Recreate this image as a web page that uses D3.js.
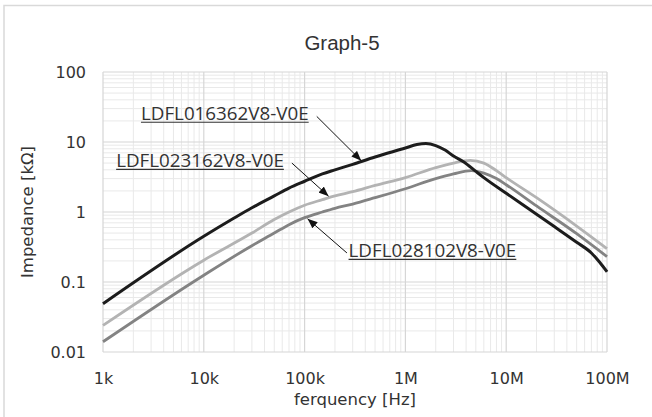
<!DOCTYPE html>
<html>
<head>
<meta charset="utf-8">
<script src="https://cdn.jsdelivr.net/npm/d3@7/dist/d3.min.js"></script>
<style>
  html, body { margin: 0; padding: 0; background: #fff; }
  svg { display: block; }
</style>
</head>
<body>
<svg id="chart" width="652" height="417"></svg>
<script>
// ---------------- DATA ----------------
const chartTitle = "Graph-5";
const xAxisTitle = "ferquency [Hz]";
const yAxisTitle = "Impedance [kΩ]";

const xTickValues = [1e3, 1e4, 1e5, 1e6, 1e7, 1e8];
const xTickLabels = ["1k", "10k", "100k", "1M", "10M", "100M"];
const yTickValues = [0.01, 0.1, 1, 10, 100];
const yTickLabels = ["0.01", "0.1", "1", "10", "100"];

const seriesNames = ["LDFL016362V8-V0E", "LDFL023162V8-V0E", "LDFL028102V8-V0E"];

// LDFL016362V8-V0E (black)
const s1Freq = [1e3, 1e4, 2e4, 3e4, 5e4, 7e4, 1e5, 1.5e5, 2e5, 3e5, 5e5, 1e6, 1.3e6, 1.6e6, 2e6, 2.5e6, 3e6, 3.8e6, 5e6, 6e6, 1e7, 2e7, 3e7, 5e7, 7e7, 8.5e7, 1e8];
const s1Imp  = [0.049, 0.45, 0.82, 1.15, 1.7, 2.2, 2.75, 3.5, 4.0, 4.8, 6.1, 8.2, 9.2, 9.5, 8.9, 7.6, 6.3, 5.2, 3.8, 3.1, 1.85, 0.93, 0.62, 0.37, 0.26, 0.19, 0.14];

// LDFL023162V8-V0E (light grey)
const s2Freq = [1e3, 1e4, 3e4, 5e4, 7e4, 1e5, 1.5e5, 2e5, 3e5, 5e5, 1e6, 2e6, 3e6, 4.4e6, 6e6, 8e6, 1e7, 2e7, 5e7, 1e8];
const s2Imp  = [0.024, 0.205, 0.5, 0.78, 1.0, 1.25, 1.5, 1.7, 1.95, 2.4, 3.1, 4.3, 5.0, 5.45, 5.0, 3.9, 3.1, 1.6, 0.63, 0.3];

// LDFL028102V8-V0E (dark grey)
const s3Freq = [1e3, 1e4, 3e4, 5e4, 7e4, 1e5, 1.5e5, 2e5, 3e5, 5e5, 1e6, 2e6, 3e6, 4.5e6, 6e6, 8e6, 1e7, 2e7, 5e7, 1e8];
const s3Imp  = [0.014, 0.125, 0.33, 0.5, 0.66, 0.83, 1.0, 1.13, 1.3, 1.6, 2.15, 3.0, 3.5, 3.9, 3.6, 3.0, 2.45, 1.22, 0.49, 0.23];

const seriesColors = ["#1c1c1c", "#b3b3b3", "#838383"];

// annotation anchors in data space: text start, arrow start, arrow tip
const annTextFreq  = [2.38e3, 1.35e3, 2.73e5];
const annTextImp   = [20.8, 4.4, 0.228];
const annFromFreq  = [1.32e5, 7.48e4, 2.63e5];
const annFromImp   = [23.2, 5.0, 0.26];
const annTipFreq   = [3.65e5, 1.73e5, 1.07e5];
const annTipImp    = [5.4, 1.68, 0.8];

// ---------------- CHART ----------------
const svg = d3.select("#chart");
const W = 652, H = 417;
const plot = { left: 103, right: 607, top: 72, bottom: 352 };

const x = d3.scaleLog().domain([1e3, 1e8]).range([plot.left, plot.right]);
const y = d3.scaleLog().domain([0.01, 100]).range([plot.bottom, plot.top]);

// chart area border
svg.append("rect")
  .attr("x", 4).attr("y", 5.5)
  .attr("width", W + 10).attr("height", H + 10)
  .attr("fill", "#fff")
  .attr("stroke", "#d9d9d9").attr("stroke-width", 1.5);

// grid
const gGrid = svg.append("g");
const xMinor = x.ticks().filter(v => !xTickValues.some(t => Math.abs(t - v) / t < 1e-6));
const yMinor = y.ticks().filter(v => !yTickValues.some(t => Math.abs(t - v) / t < 1e-6));

gGrid.selectAll(".xminor").data(xMinor).enter().append("line")
  .attr("x1", d => x(d)).attr("x2", d => x(d))
  .attr("y1", plot.top).attr("y2", plot.bottom)
  .attr("stroke", "#e9e9e9").attr("stroke-width", 1);
gGrid.selectAll(".yminor").data(yMinor).enter().append("line")
  .attr("x1", plot.left).attr("x2", plot.right)
  .attr("y1", d => y(d)).attr("y2", d => y(d))
  .attr("stroke", "#e9e9e9").attr("stroke-width", 1);
gGrid.selectAll(".xmajor").data(xTickValues).enter().append("line")
  .attr("x1", d => x(d)).attr("x2", d => x(d))
  .attr("y1", plot.top).attr("y2", plot.bottom)
  .attr("stroke", "#d6d6d6").attr("stroke-width", 1.2);
gGrid.selectAll(".ymajor").data(yTickValues).enter().append("line")
  .attr("x1", plot.left).attr("x2", plot.right)
  .attr("y1", d => y(d)).attr("y2", d => y(d))
  .attr("stroke", "#d6d6d6").attr("stroke-width", 1.2);

// axes (labels only)
const tickFont = "'DejaVu Sans', Verdana, sans-serif";
const xAxis = d3.axisBottom(x).tickValues(xTickValues)
  .tickFormat((d, i) => xTickLabels[i]).tickSize(0).tickPadding(21);
const gx = svg.append("g").attr("transform", `translate(0,${plot.bottom})`).call(xAxis);
gx.select(".domain").remove();
gx.selectAll("text").attr("font-family", tickFont).attr("font-size", "16px").attr("fill", "#333");

const yAxis = d3.axisLeft(y).tickValues(yTickValues)
  .tickFormat((d, i) => yTickLabels[i]).tickSize(0).tickPadding(17);
const gy = svg.append("g").attr("transform", `translate(${plot.left},0)`).call(yAxis);
gy.select(".domain").remove();
gy.selectAll("text").attr("font-family", tickFont).attr("font-size", "16px").attr("fill", "#333");

// series
const line = d3.line().x(d => x(d[0])).y(d => y(d[1])).curve(d3.curveMonotoneX);
const seriesData = [
  d3.zip(s1Freq, s1Imp),
  d3.zip(s2Freq, s2Imp),
  d3.zip(s3Freq, s3Imp)
];
const drawOrder = [1, 2, 0];
drawOrder.forEach(i => {
  svg.append("path")
    .datum(seriesData[i])
    .attr("d", line)
    .attr("fill", "none")
    .attr("stroke", seriesColors[i])
    .attr("stroke-width", i === 0 ? 3 : 2.8)
    .attr("stroke-linejoin", "round");
});

// titles
svg.append("text")
  .attr("x", 342).attr("y", 50)
  .attr("text-anchor", "middle")
  .attr("font-family", "'Liberation Sans', Arial, sans-serif")
  .attr("font-size", "20.5px").attr("fill", "#333")
  .text(chartTitle);

svg.append("text")
  .attr("x", (plot.left + plot.right) / 2).attr("y", 405)
  .attr("text-anchor", "middle")
  .attr("font-family", tickFont).attr("font-size", "16.5px").attr("fill", "#333")
  .text(xAxisTitle);

svg.append("text")
  .attr("transform", `translate(33,${(plot.top + plot.bottom) / 2}) rotate(-90)`)
  .attr("text-anchor", "middle")
  .attr("font-family", tickFont).attr("font-size", "16.5px").attr("fill", "#333")
  .text(yAxisTitle);

// annotations
const defs = svg.append("defs");
defs.append("marker")
  .attr("id", "arrow").attr("viewBox", "0 0 10 8")
  .attr("refX", 10).attr("refY", 4)
  .attr("markerWidth", 10).attr("markerHeight", 8)
  .attr("markerUnits", "userSpaceOnUse")
  .attr("orient", "auto")
  .append("path").attr("d", "M0,0 L10,4 L0,8 Z").attr("fill", "#111");

seriesNames.forEach((name, i) => {
  svg.append("line")
    .attr("x1", x(annFromFreq[i])).attr("y1", y(annFromImp[i]))
    .attr("x2", x(annTipFreq[i])).attr("y2", y(annTipImp[i]))
    .attr("stroke", "#111").attr("stroke-width", 1)
    .attr("marker-end", "url(#arrow)");
  const t = svg.append("text")
    .attr("x", x(annTextFreq[i])).attr("y", y(annTextImp[i]))
    .attr("font-family", "'Open Sans', 'Noto Sans', sans-serif")
    .attr("font-size", "18.8px").attr("fill", "#333")
    .text(name);
  const bb = t.node().getBBox();
  svg.append("line")
    .attr("x1", bb.x).attr("x2", bb.x + bb.width)
    .attr("y1", y(annTextImp[i]) + 2.5).attr("y2", y(annTextImp[i]) + 2.5)
    .attr("stroke", "#333").attr("stroke-width", 1.2);
});
</script>
</body>
</html>
